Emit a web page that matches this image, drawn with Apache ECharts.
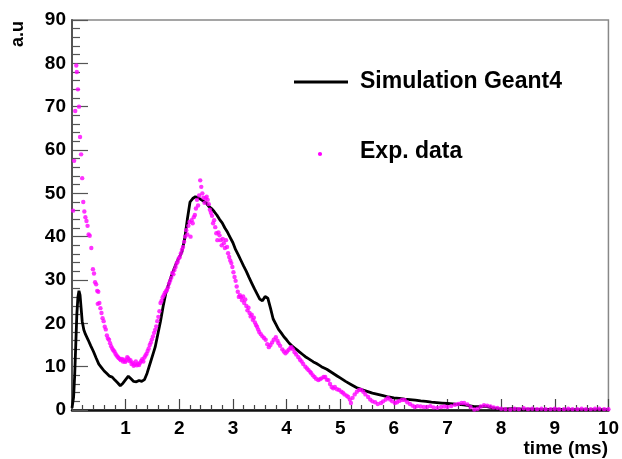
<!DOCTYPE html>
<html>
<head>
<meta charset="utf-8">
<script src="https://cdn.jsdelivr.net/npm/echarts@6/dist/echarts.min.js"></script>
<style>
html,body{margin:0;padding:0;background:#fff;}
#chart{width:622px;height:459px;}
</style>
</head>
<body>
<div id="chart"></div>
<script>
// ---- Data ----
var xTicks = [0,1,2,3,4,5,6,7,8,9,10];
var yTicks = [0,10,20,30,40,50,60,70,80,90];

var simTime = [0.00,0.03,0.05,0.07,0.09,0.11,0.13,0.15,0.17,0.19,0.22,0.25,0.30,0.35,0.40,0.45,0.50,0.55,0.60,0.65,0.70,0.75,0.80,0.85,0.90,0.95,1.00,1.05,1.10,1.15,1.20,1.25,1.30,1.35,1.40,1.45,1.50,1.55,1.60,1.65,1.70,1.75,1.80,1.85,1.90,1.95,2.00,2.05,2.10,2.15,2.20,2.25,2.30,2.35,2.40,2.45,2.50,2.55,2.60,2.65,2.70,2.75,2.80,2.85,2.90,2.95,3.00,3.05,3.10,3.15,3.20,3.25,3.30,3.35,3.40,3.45,3.50,3.55,3.60,3.65,3.70,3.75,3.80,3.85,3.90,3.95,4.00,4.05,4.10,4.15,4.20,4.25,4.30,4.35,4.40,4.45,4.50,4.55,4.60,4.65,4.70,4.75,4.80,4.85,4.90,4.95,5.00,5.10,5.20,5.30,5.40,5.50,5.60,5.70,5.80,5.90,6.00,6.10,6.20,6.30,6.40,6.50,6.60,6.70,6.80,6.90,7.00,7.10,7.20,7.30,7.40,7.50,7.60,7.70,7.80,7.90,8.00,8.20,8.40,8.60,8.80,9.00,9.20,9.40,9.60,9.80,10.00];
var simValue = [0.5,3,8,15,22,26,27.5,26.5,23.5,20.5,18.5,17.5,16.2,14.8,13.5,12.0,10.6,9.8,9.0,8.4,7.8,7.6,6.9,6.3,5.6,6.2,7.0,7.8,7.2,6.6,6.5,6.8,6.6,7.0,8.5,10.5,12.5,14.5,17.5,20.5,24.0,27.0,29.0,30.8,32.5,34.0,35.3,36.5,39.5,44.0,48.0,48.8,49.2,49.0,48.6,48.2,47.8,47.0,46.5,45.8,45.0,44.0,43.2,42.0,41.0,39.8,38.6,37.0,35.8,34.5,33.2,32.0,30.6,29.3,28.0,26.8,25.6,25.2,26.2,25.8,23.5,21.0,19.8,18.6,17.8,16.9,16.2,15.4,14.8,14.3,13.8,13.3,12.8,12.3,11.9,11.5,11.1,10.8,10.4,10.0,9.7,9.4,9.0,8.6,8.2,7.8,7.4,6.6,5.9,5.2,4.7,4.3,3.9,3.6,3.3,3.0,2.8,2.7,2.5,2.4,2.3,2.1,2.0,1.8,1.7,1.6,1.5,1.4,1.3,1.2,1.0,0.8,0.8,0.9,0.6,0.4,0.2,0.3,0.2,0.2,0.1,0.2,0.1,0.1,0.1,0.1,0.1];

var expTime = [0.02,0.04,0.06,0.08,0.09,0.11,0.13,0.15,0.17,0.19,0.21,0.23,0.25,0.27,0.29,0.31,0.33,0.36,0.39,0.41,0.43,0.45,0.47,0.48,0.49,0.51,0.53,0.55,0.57,0.59,0.61,0.63,0.65,0.67,0.69,0.71,0.73,0.75,0.77,0.79,0.81,0.83,0.85,0.87,0.89,0.91,0.93,0.95,0.97,0.99,1.01,1.03,1.05,1.07,1.09,1.11,1.13,1.15,1.17,1.19,1.21,1.23,1.25,1.27,1.29,1.31,1.33,1.35,1.37,1.39,1.41,1.43,1.45,1.47,1.49,1.51,1.53,1.55,1.57,1.59,1.61,1.63,1.65,1.67,1.69,1.71,1.73,1.75,1.77,1.79,1.81,1.83,1.85,1.87,1.89,1.91,1.93,1.95,1.97,1.99,2.01,2.03,2.05,2.07,2.09,2.11,2.13,2.15,2.17,2.19,2.21,2.23,2.25,2.27,2.29,2.31,2.33,2.35,2.37,2.39,2.41,2.43,2.45,2.47,2.49,2.51,2.53,2.55,2.57,2.59,2.61,2.63,2.65,2.67,2.69,2.71,2.73,2.75,2.77,2.79,2.81,2.83,2.85,2.87,2.89,2.91,2.93,2.95,2.97,2.99,3.01,3.03,3.05,3.07,3.09,3.11,3.13,3.15,3.17,3.19,3.21,3.23,3.25,3.27,3.29,3.31,3.33,3.35,3.37,3.39,3.41,3.43,3.45,3.47,3.49,3.52,3.55,3.58,3.61,3.64,3.67,3.70,3.73,3.76,3.80,3.83,3.85,3.88,3.92,3.95,3.98,4.01,4.04,4.07,4.09,4.12,4.15,4.18,4.22,4.25,4.28,4.31,4.35,4.38,4.41,4.44,4.46,4.49,4.52,4.55,4.59,4.62,4.65,4.69,4.72,4.75,4.78,4.81,4.84,4.87,4.90,4.94,4.98,5.02,5.05,5.08,5.12,5.15,5.18,5.20,5.23,5.27,5.31,5.35,5.39,5.43,5.47,5.52,5.56,5.60,5.65,5.70,5.76,5.80,5.85,5.89,5.93,5.97,6.02,6.06,6.10,6.15,6.20,6.25,6.30,6.35,6.39,6.44,6.50,6.56,6.62,6.68,6.74,6.81,6.88,6.94,7.00,7.07,7.14,7.20,7.26,7.31,7.37,7.43,7.50,7.56,7.62,7.68,7.74,7.80,7.86,7.93,8.00,8.08,8.17,8.25,8.33,8.42,8.50,8.58,8.67,8.75,8.83,8.92,9.00,9.08,9.17,9.25,9.33,9.42,9.50,9.58,9.67,9.75,9.83,9.92,10.00];
var expValue = [46,57.5,69,79.5,78,74,70,63,59,53.5,48,45.8,44.5,43.6,42.5,40.5,40.2,37.4,32.5,31.5,29.5,29,27.5,24.5,27.3,24.7,23.5,22.4,21.2,20.5,19.2,18.6,17.2,16.5,16.2,15.4,14.7,14.2,13.8,13.5,13,12.6,12.3,12,11.8,11.5,11.8,11.2,11.6,11.1,11.4,12.2,11.9,11.3,11.5,10.6,10.9,10.2,10.5,11.2,10.3,10.6,10.4,10.9,11.3,11.7,11.2,12.1,12.6,13.0,13.6,14.2,15.0,15.6,16.3,17.0,17.8,18.5,19.3,20.5,21.5,22.8,24.7,25.2,26.0,26.5,27.0,27.4,27.7,28.3,29.2,29.8,30.5,31.6,31.3,32.3,33.0,33.8,34.2,35.0,35.3,36.2,37.0,37.6,38.8,40.0,41.5,40.5,42.5,43.4,40.0,43.8,43.1,44.5,45.0,46.5,48.5,47.2,49.5,53.0,51.5,50.0,49.0,47.8,48.8,49.2,48.5,47.5,46.2,45.5,44.8,43.1,43.8,42.2,40.8,39.2,41.0,40.3,39.2,38.0,39.5,38.5,37.4,39.2,37.6,36.2,35.3,34.5,33.9,33.0,31.8,30.7,29.8,28.5,27.3,26.1,26.5,26.0,25.3,26.2,24.7,25.5,24.0,23.0,23.6,22.4,21.6,22.0,20.8,21.3,20.2,19.6,19.2,18.6,18.0,17.5,17.0,16.6,16.2,15.2,14.5,15.0,15.6,16.2,16.8,16.0,15.4,14.8,14.0,13.5,13.1,13.5,13.9,14.3,14.5,14.0,13.3,12.8,12.2,11.6,11.2,10.6,10.0,9.6,9.2,8.8,8.5,8.0,7.6,7.2,6.9,7.1,7.3,7.6,7.6,7.0,6.9,6.0,5.3,5.0,5.3,4.8,4.6,4.2,4.0,3.6,3.3,3.0,2.4,1.6,2.8,3.6,4.2,4.6,4.6,4.2,3.6,3.0,2.4,2.0,1.8,1.4,1.6,2.0,2.4,2.8,2.4,2.0,1.6,1.8,2.1,2.3,2.3,1.8,1.4,1.0,0.7,0.9,0.8,0.7,0.7,0.9,0.6,0.5,0.7,0.8,0.7,0.9,1.2,1.4,1.6,1.6,1.3,0.7,0.1,0.3,0.8,1.1,1.0,0.8,0.6,0.5,0.3,0.2,0.1,0.3,0.2,0.4,0.2,0.3,0.2,0.3,0.2,0.2,0.3,0.2,0.2,0.3,0.2,0.2,0.3,0.2,0.2,0.3,0.3,0.2,0.2];

var simName = 'Simulation Geant4';
var expName = 'Exp. data';
var xTitle = 'time (ms)';
var yTitle = 'a.u';

function zip(a, b) { return a.map(function (v, i) { return [v, b[i]]; }); }

var FONT = '"Liberation Sans", Arial, Helvetica, sans-serif';
var chart = echarts.init(document.getElementById('chart'), null, {renderer: 'canvas'});
chart.setOption({
  animation: false,
  backgroundColor: '#ffffff',
  grid: {left: 72, right: 10, top: 20, bottom: 49, show: true, borderColor: '#888', borderWidth: 1.5, backgroundColor: 'transparent'},
  xAxis: {
    type: 'value', min: xTicks[0], max: xTicks[xTicks.length - 1], interval: 1,
    axisLine: {show: true, onZero: false, lineStyle: {color: '#111', width: 2.5}},
    axisTick: {show: true, inside: true, length: 11, lineStyle: {color: '#444', width: 1.2}},
    minorTick: {show: true, splitNumber: 5, length: 5, lineStyle: {color: '#444', width: 1.2}},
    splitLine: {show: false},
    axisLabel: {
      margin: 9, color: '#000', fontFamily: FONT, fontWeight: 'bold', fontSize: 19,
      formatter: function (v) { return v === 0 ? '' : String(v); }
    }
  },
  yAxis: {
    type: 'value', min: yTicks[0], max: yTicks[yTicks.length - 1], interval: 10,
    axisLine: {show: true, onZero: false, lineStyle: {color: '#555', width: 2}},
    axisTick: {show: true, inside: true, length: 16, lineStyle: {color: '#555', width: 1.2}},
    minorTick: {show: true, splitNumber: 5, length: 8, lineStyle: {color: '#555', width: 1.2}},
    splitLine: {show: false},
    axisLabel: {margin: 6, color: '#000', fontFamily: FONT, fontWeight: 'bold', fontSize: 19}
  },
  series: [
    {
      name: simName, type: 'line', data: zip(simTime, simValue),
      showSymbol: false, symbol: 'none', z: 3,
      lineStyle: {color: '#000', width: 2.8}
    },
    {
      name: expName, type: 'scatter', data: zip(expTime, expValue),
      symbol: 'circle', symbolSize: 4.4, z: 4,
      itemStyle: {color: '#ff00ff'}
    }
  ],
  graphic: [
    {type: 'line', shape: {x1: 294, y1: 82, x2: 348, y2: 82}, style: {stroke: '#000', lineWidth: 3}},
    {type: 'text', left: 360, top: 70, style: {text: simName, font: 'bold 23px ' + FONT, fill: '#000'}},
    {type: 'circle', shape: {cx: 320, cy: 154, r: 2.1}, style: {fill: '#ff00ff'}},
    {type: 'text', left: 360, top: 140, style: {text: expName, font: 'bold 23px ' + FONT, fill: '#000'}},
    {type: 'text', right: 14, top: 439, style: {text: xTitle, font: 'bold 19px ' + FONT, fill: '#000'}},
    {type: 'text', x: 9, y: 47, rotation: Math.PI / 2, style: {text: yTitle, font: 'bold 18px ' + FONT, fill: '#000'}}
  ]
});
</script>
</body>
</html>
